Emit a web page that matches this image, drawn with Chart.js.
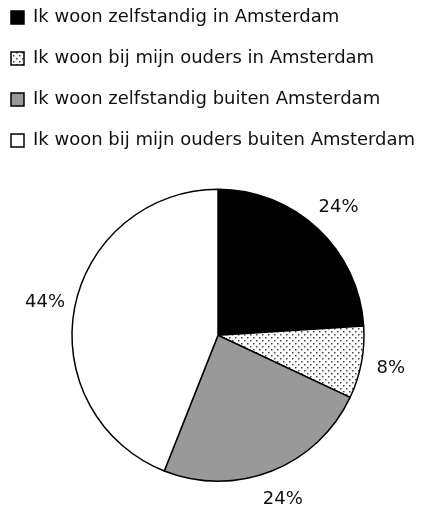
<!DOCTYPE html>
<html>
<head>
<meta charset="utf-8">
<script src="https://cdn.jsdelivr.net/npm/chart.js@4"></script>
<style>
  html, body { margin: 0; padding: 0; background: #fff; }
  #wrap { width: 422px; height: 511px; }
</style>
</head>
<body>
<div id="wrap"><canvas id="myPieChart"></canvas></div>
<script>
/*chart data*/
const labels = [
  'Ik woon zelfstandig in Amsterdam',
  'Ik woon bij mijn ouders in Amsterdam',
  'Ik woon zelfstandig buiten Amsterdam',
  'Ik woon bij mijn ouders buiten Amsterdam'
];
const percentages = [24, 8, 24, 44];

/*dotted fill for the second slice*/
function makeDots() {
  const c = document.createElement('canvas');
  c.width = 6;
  c.height = 6;
  const g = c.getContext('2d');
  g.fillStyle = '#fff';
  g.fillRect(0, 0, 6, 6);
  g.fillStyle = '#444';
  g.fillRect(1, 1, 1.5, 1.5);
  g.fillRect(4, 4, 1.5, 1.5);
  return g.createPattern(c, 'repeat');
}

const fontFamily = '"DejaVu Sans", sans-serif';

/*percent labels outside the slices*/
const outsideLabels = {
  id: 'outsideLabels',
  afterDatasetsDraw(chart) {
    const ctx = chart.ctx;
    const meta = chart.getDatasetMeta(0);
    ctx.save();
    ctx.font = '18px ' + fontFamily;
    ctx.fillStyle = '#111';
    ctx.textAlign = 'center';
    ctx.textBaseline = 'middle';
    meta.data.forEach((arc, i) => {
      const p = arc.getProps(['x', 'y', 'startAngle', 'endAngle', 'outerRadius'], true);
      const mid = (p.startAngle + p.endAngle) / 2;
      const r = p.outerRadius + 30;
      ctx.fillText(percentages[i] + '%', p.x + Math.cos(mid) * r, p.y + Math.sin(mid) * r);
    });
    ctx.restore();
  }
};

const data = {
  labels: labels,
  datasets: [{
    data: percentages,
    backgroundColor: ['#000000', makeDots(), '#999999', '#ffffff'],
    borderColor: '#000',
    borderWidth: 1.5
  }]
};

const pieConfig = {
  type: 'pie',
  data: data,
  options: {
    responsive: true,
    maintainAspectRatio: false,
    animation: false,
    radius: 146,
    layout: {
      padding: { left: -12, top: -14.5, right: 0, bottom: 0 }
    },
    plugins: {
      tooltip: { enabled: false },
      // empty title on the left, only used to push the pie a bit right
      title: {
        display: true,
        position: 'left',
        text: '',
        font: { size: 1 },
        padding: { top: 12.4, bottom: 12.4 }
      },
      legend: {
        position: 'top',
        align: 'start',
        labels: {
          boxWidth: 13,
          boxHeight: 13,
          padding: 23,
          color: '#111',
          font: { size: 18, family: fontFamily }
        }
      }
    }
  },
  plugins: [outsideLabels]
};

/*create chart*/
var myPieChart = new Chart(
  document.getElementById('myPieChart'),
  pieConfig
);
</script>
</body>
</html>
